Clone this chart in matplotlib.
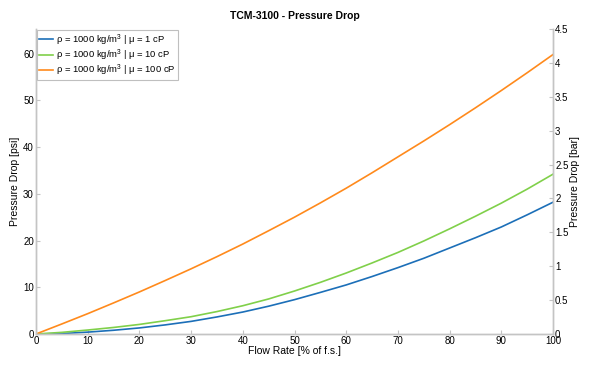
import matplotlib.pyplot as plt

plt.rcParams['font.family'] = ['Liberation Sans', 'DejaVu Sans']
plt.rcParams['mathtext.fontset'] = 'custom'
plt.rcParams['mathtext.rm'] = 'Liberation Sans'

# flow rate [% of full scale]
flow = [0, 5, 10, 15, 20, 25, 30, 35, 40, 45, 50,
        55, 60, 65, 70, 75, 80, 85, 90, 95, 100]

# pressure drop [psi]
dp_1cp = [0, 0.1, 0.4, 0.8, 1.3, 1.95, 2.7, 3.65, 4.7, 5.95, 7.35,
          8.9, 10.5, 12.3, 14.2, 16.2, 18.4, 20.6, 22.9, 25.5, 28.2]
dp_10cp = [0, 0.35, 0.85, 1.4, 2.05, 2.85, 3.7, 4.8, 6.05, 7.5, 9.2,
           11.05, 13.05, 15.2, 17.45, 19.9, 22.5, 25.2, 28.0, 31.0, 34.2]
dp_100cp = [0, 2.15, 4.35, 6.65, 9.0, 11.45, 13.95, 16.55, 19.25, 22.1, 25.0,
            28.05, 31.2, 34.5, 37.9, 41.3, 44.8, 48.4, 52.1, 55.9, 59.8]

labels = [r'ρ = 1000 kg/m$^{3}$ | μ = 1 cP',
          r'ρ = 1000 kg/m$^{3}$ | μ = 10 cP',
          r'ρ = 1000 kg/m$^{3}$ | μ = 100 cP']
colors = ['#1c6fb8', '#80d04a', '#ff8a1c']

psi_per_bar = 14.5038
bar_max = 4.5
left_ticks = [0, 10, 20, 30, 40, 50, 60]
right_ticks = [0, 0.5, 1, 1.5, 2, 2.5, 3, 3.5, 4, 4.5]
right_ticklabels = ['0', '0.5', '1', '1.5', '2', '2.5', '3', '3.5', '4', '4.5']
x_ticks = [0, 10, 20, 30, 40, 50, 60, 70, 80, 90, 100]

fig = plt.figure(figsize=(5.91, 3.76), dpi=100)
ax = fig.add_axes([36 / 591, 1 - 334 / 376, 517 / 591, 305 / 376])

for series, label, color in zip([dp_1cp, dp_10cp, dp_100cp], labels, colors):
    ax.plot(flow, series, color=color, lw=1.2, label=label)

ax.set_xlim(0, 100)
ax.set_ylim(0, bar_max * psi_per_bar)
ax.set_xticks(x_ticks)
ax.set_yticks(left_ticks)

ax2 = ax.twinx()
ax2.set_ylim(0, bar_max)
ax2.set_yticks(right_ticks)
ax2.set_yticklabels(right_ticklabels)

axis_grey = '#c4c4c4'
for a in (ax, ax2):
    for side in ('left', 'right', 'bottom'):
        a.spines[side].set_color(axis_grey)
        a.spines[side].set_linewidth(1.0)
    a.spines['top'].set_visible(False)
    a.tick_params(direction='in', length=3, width=0.8, color=axis_grey,
                  labelsize=7, pad=1.5)

ax.set_xlabel('Flow Rate [% of f.s.]', fontsize=7.5, labelpad=0)
ax.set_ylabel('Pressure Drop [psi]', fontsize=7.5, labelpad=2)
ax2.set_ylabel('Pressure Drop [bar]', fontsize=7.5, labelpad=1)
ax.set_title('TCM-3100 - Pressure Drop', fontsize=7.5, fontweight='bold', pad=7)

leg = ax.legend(loc='upper left', fontsize=6.8, frameon=True, fancybox=False,
                borderpad=0.2, labelspacing=0.0, handlelength=1.5,
                handletextpad=0.3, borderaxespad=0.15)
leg.get_frame().set_edgecolor('#b0b0b0')
leg.get_frame().set_linewidth(0.8)

fig.savefig('out.png', dpi=100)
